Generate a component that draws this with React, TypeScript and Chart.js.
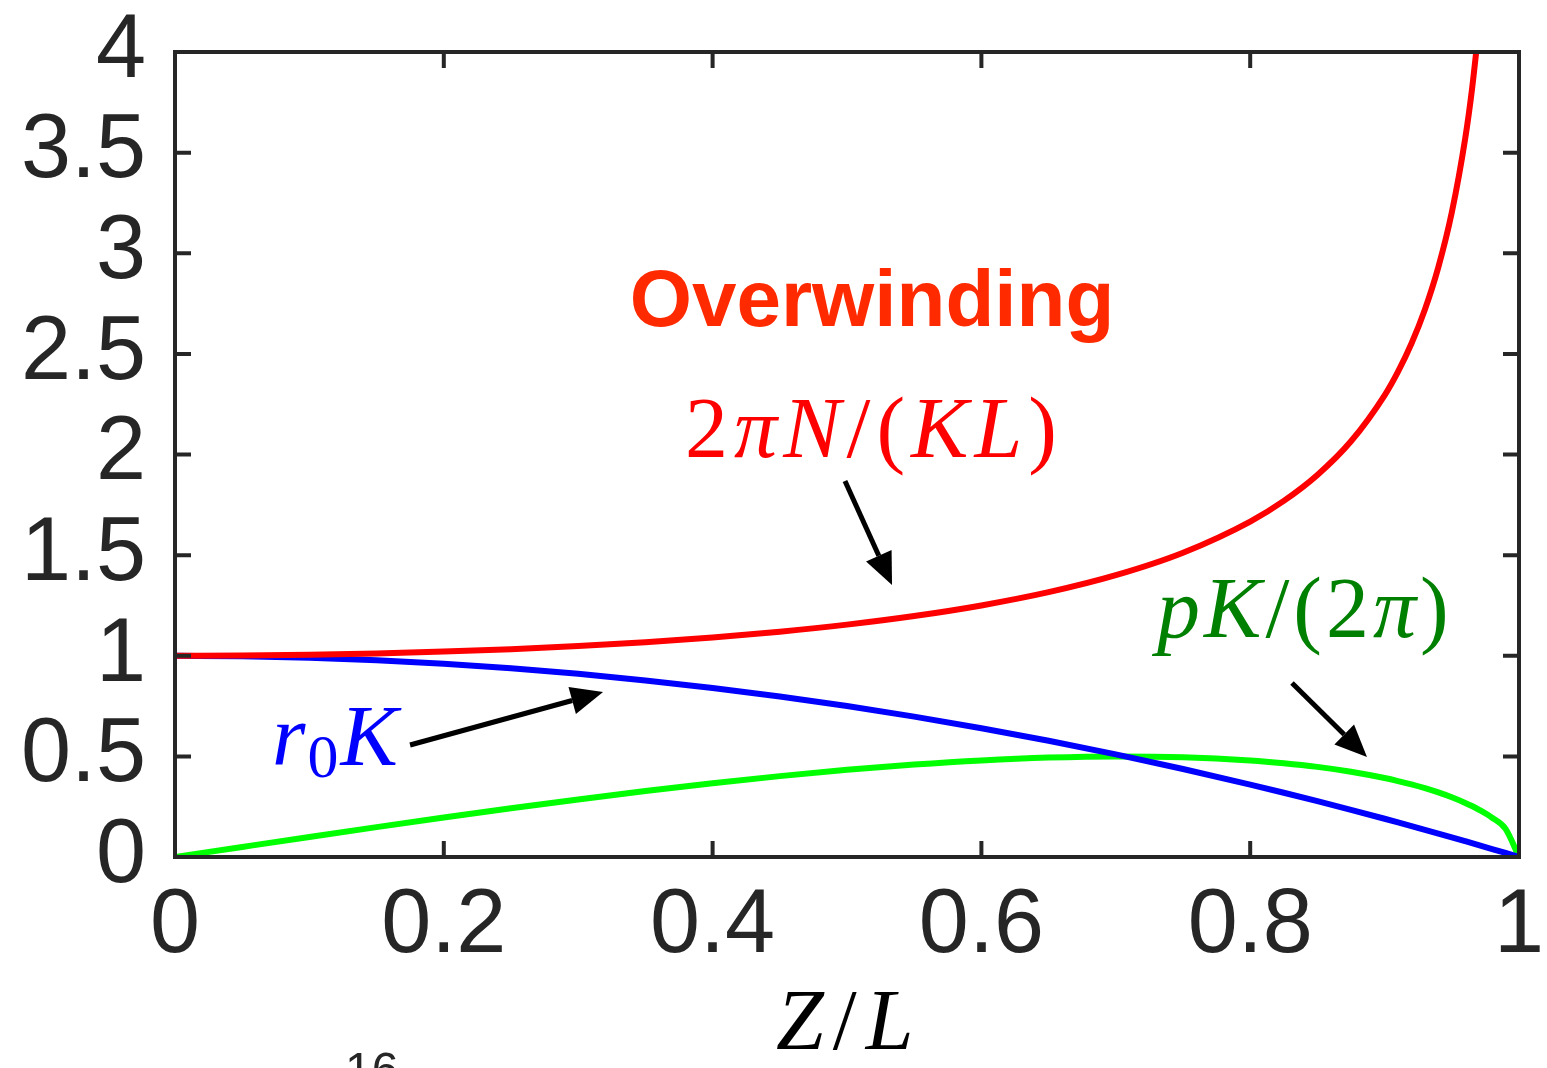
import React, { useEffect, useRef } from "react";
import { Chart, registerables } from "chart.js";

Chart.register(...registerables);

// ---- data ----
const zOverL = [0, 0.05, 0.1, 0.15, 0.2, 0.25, 0.3, 0.35, 0.4, 0.45, 0.5, 0.55, 0.6, 0.65, 0.7, 0.75, 0.8, 0.825, 0.85, 0.875, 0.9, 0.91, 0.92, 0.93, 0.94, 0.95, 0.96, 0.965, 0.97, 0.98, 0.99, 1.0];
const twoPiNOverKL = [1, 1.0013, 1.005, 1.0114, 1.0206, 1.0328, 1.0483, 1.0675, 1.0911, 1.1198, 1.1547, 1.1974, 1.25, 1.3159, 1.4003, 1.5119, 1.6667, 1.7695, 1.8983, 2.0656, 2.2942, 2.4119, 2.5516, 2.7206, 2.9311, 3.2026, 3.5714, 3.8132, 4.1135, null, null, null];
const r0K = [1, 0.9975, 0.99, 0.9775, 0.96, 0.9375, 0.91, 0.8775, 0.84, 0.7975, 0.75, 0.6975, 0.64, 0.5775, 0.51, 0.4375, 0.36, 0.3194, 0.2775, 0.2344, 0.19, 0.1719, 0.1536, 0.1351, 0.1164, 0.0975, 0.0784, 0.0688, 0.0591, 0.0396, 0.0199, 0];
const pKOver2Pi = [0, 0.0499, 0.0995, 0.1483, 0.196, 0.2421, 0.2862, 0.3279, 0.3666, 0.4019, 0.433, 0.4593, 0.48, 0.494, 0.4999, 0.4961, 0.48, 0.4662, 0.4478, 0.4236, 0.3923, 0.3773, 0.3606, 0.3418, 0.3207, 0.2966, 0.2688, 0.2531, 0.2358, 0.195, 0.1397, 0];

const xTickValues = [0, 0.2, 0.4, 0.6, 0.8, 1];
const xTickLabels = ["0", "0.2", "0.4", "0.6", "0.8", "1"];
const yTickValues = [0, 0.5, 1, 1.5, 2, 2.5, 3, 3.5, 4];
const yTickLabels = ["0", "0.5", "1", "1.5", "2", "2.5", "3", "3.5", "4"];

// annotation anchors in data units
const overwindingAt = { x: 0.5186, y: 2.638 };
const redLabelAt = { x: 0.3795, y: 1.99 };
const blueLabelAt = { x: 0.0722, y: 0.457 };
const greenLabelAt = { x: 0.7307, y: 1.093 };
const xTitleAt = { x: 0.4472, y: -0.955 };
const strayAt = { x: 0.1265, y: -1.14 };
const redArrow = [0.4985, 1.868, 0.5335, 1.352];
const blueArrow = [0.1749, 0.5565, 0.3185, 0.8199];
const greenArrow = [0.8311, 0.8646, 0.8869, 0.4969];

const AXIS_COLOR = "#262626";

type Seg = { t: string; it?: boolean; scale?: number; dy?: number };

function drawMath(ctx: CanvasRenderingContext2D, x: number, y: number, segs: Seg[], size: number, color: string, gap: number) {
  ctx.save();
  ctx.fillStyle = color;
  ctx.textBaseline = "alphabetic";
  ctx.textAlign = "left";
  let cx = x;
  for (const s of segs) {
    const fs = size * (s.scale ?? 1);
    ctx.font = `${s.it ? "italic " : ""}${fs}px "Liberation Serif"`;
    for (const ch of Array.from(s.t)) {
      ctx.fillText(ch, cx, y + (s.dy ?? 0));
      cx += ctx.measureText(ch).width + gap;
    }
  }
  ctx.restore();
}

function drawArrow(ctx: CanvasRenderingContext2D, x1: number, y1: number, x2: number, y2: number) {
  const ang = Math.atan2(y2 - y1, x2 - x1);
  const headLen = 32;
  const headW = 14;
  const bx = x2 - headLen * Math.cos(ang);
  const by = y2 - headLen * Math.sin(ang);
  ctx.save();
  ctx.strokeStyle = "#000";
  ctx.fillStyle = "#000";
  ctx.lineWidth = 5;
  ctx.beginPath();
  ctx.moveTo(x1, y1);
  ctx.lineTo(bx, by);
  ctx.stroke();
  ctx.beginPath();
  ctx.moveTo(x2, y2);
  ctx.lineTo(bx + headW * Math.sin(ang), by - headW * Math.cos(ang));
  ctx.lineTo(bx - headW * Math.sin(ang), by + headW * Math.cos(ang));
  ctx.closePath();
  ctx.fill();
  ctx.restore();
}

const framePlugin = {
  id: "matlabFrame",
  afterDatasetsDraw(chart: any) {
    const { ctx, chartArea } = chart;
    const xs = chart.scales.x;
    const ys = chart.scales.y;
    const { left, right, top, bottom } = chartArea;
    const tl = 16;
    ctx.save();
    ctx.strokeStyle = AXIS_COLOR;
    ctx.lineWidth = 4;
    ctx.lineCap = "butt";
    ctx.beginPath();
    for (const v of xTickValues) {
      const px = xs.getPixelForValue(v);
      ctx.moveTo(px, bottom);
      ctx.lineTo(px, bottom - tl);
      ctx.moveTo(px, top);
      ctx.lineTo(px, top + tl);
    }
    for (const v of yTickValues) {
      const py = ys.getPixelForValue(v);
      ctx.moveTo(left, py);
      ctx.lineTo(left + tl, py);
      ctx.moveTo(right, py);
      ctx.lineTo(right - tl, py);
    }
    ctx.stroke();
    ctx.strokeRect(left, top, right - left, bottom - top);
    ctx.restore();
  },
  afterDraw(chart: any) {
    const { ctx } = chart;
    const xs = chart.scales.x;
    const ys = chart.scales.y;
    const px = (v: number) => xs.getPixelForValue(v);
    const py = (v: number) => ys.getPixelForValue(v);

    // "Overwinding"
    ctx.save();
    ctx.fillStyle = "#ff2a00";
    ctx.font = 'bold 80px "Liberation Sans"';
    ctx.textAlign = "center";
    ctx.textBaseline = "alphabetic";
    ctx.fillText("Overwinding", px(overwindingAt.x), py(overwindingAt.y));
    ctx.restore();

    // 2πN/(KL)
    drawMath(ctx, px(redLabelAt.x), py(redLabelAt.y), [
      { t: "2" }, { t: "πN", it: true }, { t: "/(" }, { t: "KL", it: true }, { t: ")" },
    ], 86, "#ff0000", 6);

    // r0K
    drawMath(ctx, px(blueLabelAt.x), py(blueLabelAt.y), [
      { t: "r", it: true }, { t: "0", scale: 0.72, dy: 12 }, { t: "K", it: true },
    ], 86, "#0000ff", 2);

    // pK/(2π)
    drawMath(ctx, px(greenLabelAt.x), py(greenLabelAt.y), [
      { t: "pK", it: true }, { t: "/(2" }, { t: "π", it: true }, { t: ")" },
    ], 86, "#008000", 4);

    // x title Z/L
    drawMath(ctx, px(xTitleAt.x), py(xTitleAt.y), [
      { t: "Z", it: true }, { t: "/" }, { t: "L", it: true },
    ], 86, "#000000", 9);

    // stray exponent text at the bottom edge
    ctx.save();
    ctx.fillStyle = AXIS_COLOR;
    ctx.font = '48px "Liberation Sans"';
    ctx.textAlign = "left";
    ctx.textBaseline = "alphabetic";
    ctx.fillText("16", px(strayAt.x), py(strayAt.y));
    ctx.restore();

    drawArrow(ctx, px(redArrow[0]), py(redArrow[1]), px(redArrow[2]), py(redArrow[3]));
    drawArrow(ctx, px(blueArrow[0]), py(blueArrow[1]), px(blueArrow[2]), py(blueArrow[3]));
    drawArrow(ctx, px(greenArrow[0]), py(greenArrow[1]), px(greenArrow[2]), py(greenArrow[3]));
  },
};

function toPoints(ys: (number | null)[]) {
  return zOverL.map((x, i) => ({ x, y: ys[i] }));
}

export default function App() {
  const ref = useRef<HTMLCanvasElement | null>(null);
  useEffect(() => {
    if (!ref.current) return;
    const tickFont = { family: '"Liberation Sans", Arial, sans-serif', size: 90, lineHeight: 1 };
    const chart = new Chart(ref.current, {
      type: "line",
      data: {
        datasets: [
          { label: "2πN/(KL)", data: toPoints(twoPiNOverKL), borderColor: "#ff0000", borderWidth: 6, pointRadius: 0, cubicInterpolationMode: "monotone", spanGaps: false },
          { label: "r0K", data: toPoints(r0K), borderColor: "#0000ff", borderWidth: 6, pointRadius: 0, cubicInterpolationMode: "monotone" },
          { label: "pK/(2π)", data: toPoints(pKOver2Pi), borderColor: "#00ff00", borderWidth: 6, pointRadius: 0, cubicInterpolationMode: "monotone" },
        ],
      } as any,
      options: {
        animation: false,
        responsive: false,
        maintainAspectRatio: false,
        layout: { padding: { top: 52, right: 28, left: 0, bottom: 0 } },
        plugins: { legend: { display: false }, tooltip: { enabled: false } },
        scales: {
          x: {
            type: "linear",
            min: 0,
            max: 1,
            grid: { display: false, drawTicks: false, tickLength: 0 },
            border: { display: false },
            afterBuildTicks: (s: any) => { s.ticks = xTickValues.map((v) => ({ value: v })); },
            afterFit: (s: any) => { s.height = 211; s.paddingLeft = 0; s.paddingRight = 0; s.paddingTop = 0; s.paddingBottom = 0; },
            ticks: {
              padding: 25,
              color: AXIS_COLOR,
              font: tickFont,
              maxRotation: 0,
              autoSkip: false,
              callback: (v: any) => { const i = xTickValues.indexOf(Number(v)); return i >= 0 ? xTickLabels[i] : ""; },
            },
          },
          y: {
            type: "linear",
            min: 0,
            max: 4,
            grid: { display: false, drawTicks: false, tickLength: 0 },
            border: { display: false },
            afterBuildTicks: (s: any) => { s.ticks = yTickValues.map((v) => ({ value: v })); },
            afterFit: (s: any) => { s.width = 175; s.paddingLeft = 0; s.paddingRight = 0; s.paddingTop = 0; s.paddingBottom = 0; },
            ticks: {
              padding: 29,
              color: AXIS_COLOR,
              font: tickFont,
              autoSkip: false,
              callback: (v: any) => { const i = yTickValues.indexOf(Number(v)); return i >= 0 ? yTickLabels[i] : ""; },
            },
          },
        },
      } as any,
      plugins: [framePlugin],
    });
    return () => chart.destroy();
  }, []);
  return (
    <div style={{ position: "fixed", left: 0, top: 0, width: 1547, height: 1068, background: "#fff" }}>
      <canvas ref={ref} width={1547} height={1068} style={{ width: 1547, height: 1068, display: "block" }} />
    </div>
  );
}
